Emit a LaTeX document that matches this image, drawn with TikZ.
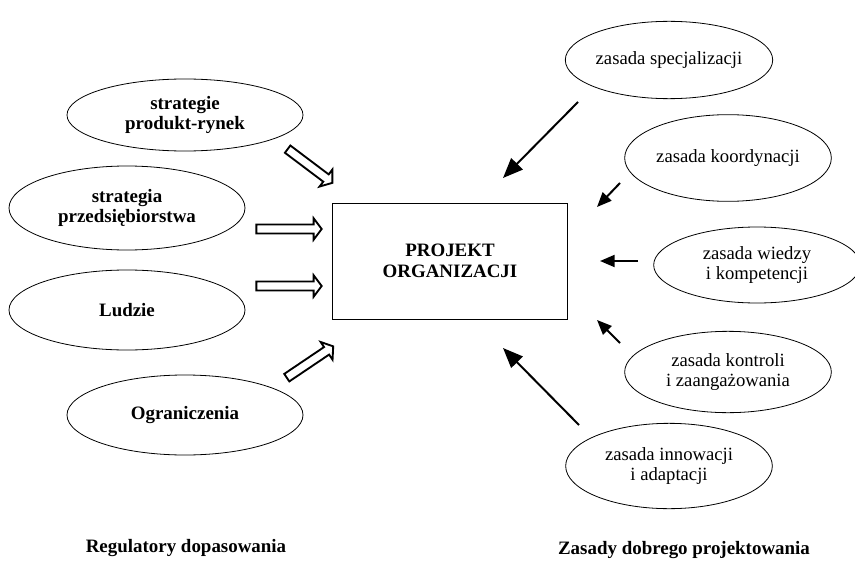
\documentclass[tikz,border=0pt]{standalone}
\usepackage{fontspec}
\setmainfont{Liberation Serif}
\usetikzlibrary{arrows.meta,shapes.geometric}
\tikzset{
  txt/.style={font=\fontsize{14}{15.5}\selectfont,align=center},
  txtb/.style={font=\fontsize{14.2}{15.5}\selectfont\bfseries,align=center},
  regel/.style={ellipse,draw=black,line width=0.6pt,inner sep=0pt,
    minimum width=177pt,minimum height=60pt,txtb},
  zasel/.style={ellipse,draw=black,line width=0.6pt,inner sep=0pt,
    minimum width=155pt,minimum height=62pt,txt},
  projbox/.style={draw=black,line width=0.6pt,minimum width=176pt,
    minimum height=87pt,inner sep=0pt,txtb},
  % hollow block arrow, #1 = half length
  pics/hollow/.style={code={
    \draw[line width=1.4pt,fill=white,line join=miter]
      ({-#1},-3.4pt) -- ({#1-6pt},-3.4pt) -- ({#1-6pt},-8pt) -- ({#1},0pt)
      -- ({#1-6pt},8pt) -- ({#1-6pt},3.4pt) -- ({-#1},3.4pt) -- cycle;
  }},
  pull/.style={-{Triangle[length=15pt,width=12pt]},line width=1.5pt},
  pullsm/.style={-{Triangle[length=11pt,width=9pt]},line width=1.5pt},
  caption/.style={txtb},
}
\begin{document}
\begin{tikzpicture}[x=0.75pt,y=-0.75pt]
  \useasboundingbox (0,0) rectangle (855,563);
  % centre
  \node[projbox] (proj) at (450,261) {PROJEKT\\ORGANIZACJI};
  % regulatory dopasowania
  \node[regel,minimum height=54pt] (r1) at (185,115) {strategie\\produkt-rynek};
  \node[regel,minimum height=63pt] (r2) at (127,208) {strategia\\przedsiębiorstwa};
  \node[regel] (r3) at (127,310) {Ludzie};
  \node[regel] (r4) at (185,415) {Ograniczenia};
  \pic[rotate=-37] (h1) at (310,166) {hollow=21pt};
  \pic (h2) at (289,229) {hollow=24.5pt};
  \pic (h3) at (289,286) {hollow=24.5pt};
  \pic[rotate=34] (h4) at (310,362) {hollow=21pt};
  % zasady dobrego projektowania
  \node[zasel,minimum height=58pt] (z1) at (669,60) {zasada specjalizacji};
  \node[zasel,minimum height=65pt] (z2) at (728,158) {zasada koordynacji};
  \node[zasel,minimum height=57pt] (z3) at (757,265) {zasada wiedzy\\i kompetencji};
  \node[zasel,minimum height=61pt] (z4) at (728,372) {zasada kontroli\\i zaangażowania};
  \node[zasel,minimum height=64pt] (z5) at (669,466) {zasada innowacji\\i adaptacji};
  \coordinate (t1) at (578,102); \coordinate (p1) at (503,178);
  \coordinate (t2) at (620,183); \coordinate (p2) at (597,207);
  \coordinate (t3) at (638,261); \coordinate (p3) at (600,261);
  \coordinate (t4) at (620,343); \coordinate (p4) at (597,320);
  \coordinate (t5) at (579,425); \coordinate (p5) at (503,348);
  \draw[pull] (t1) -- (p1);
  \draw[pullsm] (t2) -- (p2);
  \draw[pullsm] (t3) -- (p3);
  \draw[pullsm] (t4) -- (p4);
  \draw[pull] (t5) -- (p5);
  % podpisy
  \node[caption] (c1) at (186,548) {Regulatory dopasowania};
  \node[caption] (c2) at (684,550) {Zasady dobrego projektowania};
\end{tikzpicture}
\end{document}
